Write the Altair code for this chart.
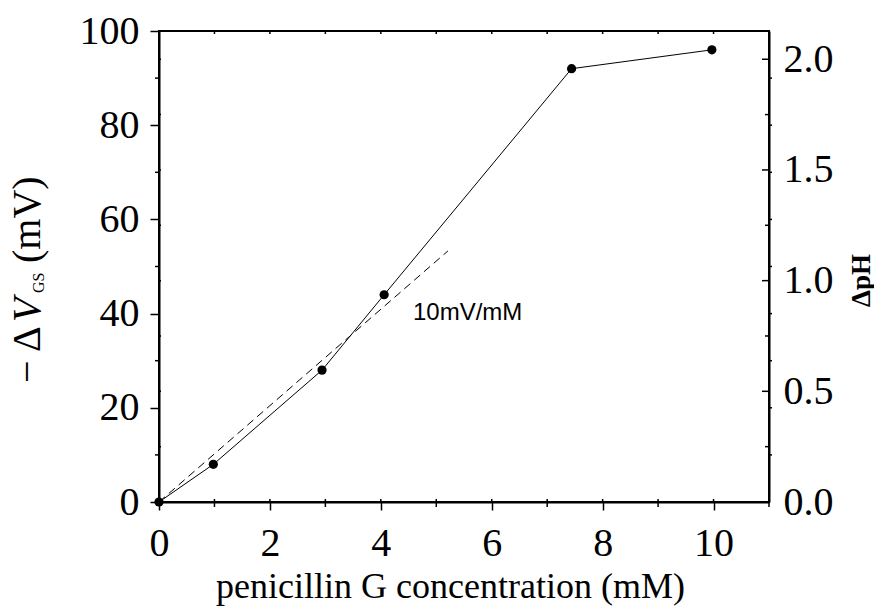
import altair as alt
import pandas as pd

# ---- data ----
conc = [0.0, 0.98, 2.94, 4.06, 7.44, 9.97]          # penicillin G (mM)
dvgs = [0.0, 8.0, 28.0, 44.0, 92.0, 96.0]           # -dV_GS (mV)
fit_x = [0.0, 5.21]                                  # 10 mV/mM guide line
fit_y = [0.0, 53.3]
note_x = [4.58]
note_y = [40.1]
note_txt = ["10mV/mM"]

x_labels = [0, 2, 4, 6, 8, 10]
x_minor = [1, 3, 5, 7, 9, 11]
x_all = [1, 2, 3, 4, 5, 6, 7, 8, 9, 10]
mv_labels = [0, 20, 40, 60, 80, 100]
mv_minor = [10, 30, 50, 70, 90]
mv_all = [10, 20, 30, 40, 50, 60, 70, 80, 90]
ph_labels = [0.0, 0.5, 1.0, 1.5, 2.0]
ph_major = [0.5, 1.0, 1.5, 2.0]
ph_minor = [0.25, 0.75, 1.25, 1.75]
ph_all = [0.25, 0.5, 0.75, 1.0, 1.25, 1.5, 1.75, 2.0]
PH_MAX = 100 / 47

W, H = 610, 471
SERIF = "Liberation Serif"

xs = alt.Scale(domain=[0, 11], nice=False, zero=False)
ys = alt.Scale(domain=[0, 100], nice=False, zero=False)
ps = alt.Scale(domain=[0, PH_MAX], nice=False, zero=False)

df = pd.DataFrame({"c": conc, "v": dvgs})
fit = pd.DataFrame({"c": fit_x, "v": fit_y})
note = pd.DataFrame({"c": note_x, "v": note_y, "t": note_txt})

x_axis = alt.Axis(values=x_labels, title="penicillin G concentration (mM)",
                  tickSize=8, tickWidth=1.5, labelPadding=13, labelFlush=False,
                  labelOverlap=False, titleX=291, titleY=95,
                  titleBaseline="alphabetic", titleAlign="center",
                  titleFont=SERIF, titleFontSize=36, titleFontWeight="normal")
y_axis = alt.Axis(values=mv_labels, title="", tickSize=9, tickWidth=1.5,
                  labelPadding=11, labelFlush=False, labelOverlap=False)
ph_axis = alt.Axis(orient="right", values=ph_labels, format=".1f", ticks=False,
                   labelPadding=14, labelFlush=False, labelOverlap=False,
                   title="\u0394pH", titleFont=SERIF, titleFontWeight="bold",
                   titleFontSize=27, titleAngle=270, titleX=92, titleY=249,
                   titleAlign="center", titleBaseline="middle")

X = lambda: alt.X("c:Q", scale=xs, axis=x_axis)
Y = lambda: alt.Y("v:Q", scale=ys, axis=y_axis)
P = lambda: alt.Y("v:Q", scale=ps, axis=ph_axis)

line = alt.Chart(df).mark_line(color="black", strokeWidth=1).encode(x=X(), y=Y())
pts = alt.Chart(df).mark_circle(color="black", opacity=1, size=85).encode(x=X(), y=Y())
dashed = alt.Chart(fit).mark_line(color="black", strokeWidth=1, strokeDash=[8, 5]).encode(x=X(), y=Y())
ann = alt.Chart(note).mark_text(font="Liberation Sans", fontSize=24, align="left",
                                baseline="middle", color="black").encode(
    x=X(), y=Y(), text="t:N")


def xticks(vals, y0, y1):
    return alt.Chart(pd.DataFrame({"c": vals})).mark_rule(color="black", strokeWidth=1.5).encode(
        x=X(), y=alt.value(y0), y2=alt.value(y1))


def yticks(vals, enc, x0, x1):
    return alt.Chart(pd.DataFrame({"v": vals})).mark_rule(color="black", strokeWidth=1.5).encode(
        y=enc(), x=alt.value(x0), x2=alt.value(x1))


def piece(txt, y, size, x, style="normal"):
    return alt.Chart(pd.DataFrame({"a": [0]})).mark_text(
        text=txt, font=SERIF, fontSize=size, fontStyle=style, angle=270,
        align="left", baseline="alphabetic", color="black").encode(
        x=alt.value(x), y=alt.value(y))


mv_layer = alt.layer(
    line, dashed, pts, ann,
    xticks(x_minor, H, H + 5),
    xticks(x_all, H - 3, H),
    xticks(x_all, 0, 3),
    yticks(mv_minor, Y, -4, 0),
    yticks(mv_all, Y, W, W + 3),
    piece("\u2212", 352, 40, -119),
    piece("\u0394", 321, 40, -119),
    piece("V", 291, 40, -119, "italic"),
    piece("GS", 262, 16, -115),
    piece("(mV)", 232, 40, -119),
)

ph_layer = alt.layer(
    yticks(ph_major, P, W - 7, W),
    yticks(ph_minor, P, W - 4, W),
    yticks(ph_all, P, 0, 2),
)

chart = alt.layer(mv_layer, ph_layer).resolve_scale(y="independent").properties(
    width=W, height=H, autosize="none",
    padding={"left": 151, "top": 23, "right": 105, "bottom": 105},
).configure_view(stroke="black", strokeWidth=2).configure_axis(
    domainColor="black", domainWidth=2, tickColor="black", grid=False,
    labelFont=SERIF, labelFontSize=40, labelColor="black", titleColor="black",
)

chart.save("out.html", embed_options={"renderer": "svg", "actions": False})
